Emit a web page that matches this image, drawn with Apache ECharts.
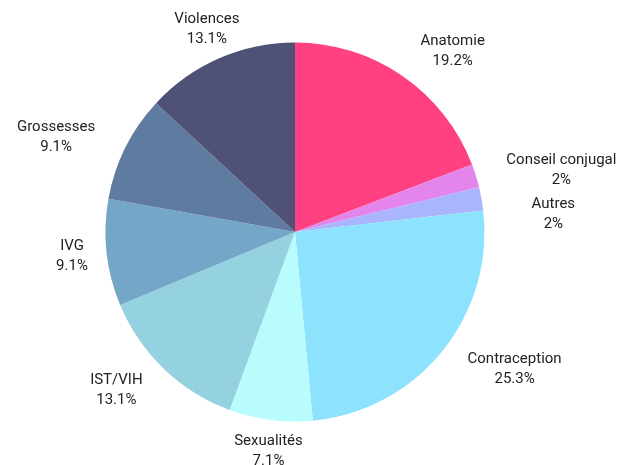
<!DOCTYPE html>
<html><head><meta charset="utf-8">
<script src="https://cdn.jsdelivr.net/npm/echarts@6/dist/echarts.min.js"></script>
<style>html,body{margin:0;padding:0;background:#fff}#c{width:617px;height:465px}</style>
</head><body><div id="c"></div>
<script>
const categories = ["Anatomie","Conseil conjugal","Autres","Contraception","Sexualités","IST/VIH","IVG","Grossesses","Violences"];
const values = [19.2,2,2,25.3,7.1,13.1,9.1,9.1,13.1];
const colors = ["#ff4081","#e385ea","#a9b6fe","#8de3fd","#b9fcfd","#94d2e0","#74a7c7","#5f7ba0","#4f5177"];

const CX = 295, CY = 232, R = 189.5;
const total = values.reduce((a,b)=>a+b,0);
const mids = [];
{ let cum = 0; values.forEach(v => { mids.push((cum + v/2)/total*Math.PI*2); cum += v; }); }

// place labels just outside the pie along each slice's mid angle
const placed = [];
function layout(p){
  const i = p.dataIndex;
  const th = mids[i];
  const ux = Math.sin(th), uy = -Math.cos(th);
  const ax = Math.abs(ux), ay = Math.abs(uy);
  const w = p.labelRect.width, h = p.labelRect.height;
  const hh = h*0.42;
  const d = R + 17;
  const s = Math.min(1, Math.max(0, (ax-0.38)/0.15));
  const extra = (ax > 0.65 && ax < 0.98) ? 9*(ax-0.65)/0.3 : 0;
  let x = ux*d + Math.sign(ux)*(w/2 + hh/2*Math.min(1, ay/0.5) + extra)*s;
  let y = uy*d + Math.sign(uy)*hh*uy*uy + 1 - 3*Math.pow(Math.max(0,uy),4);
  // avoid overlap with earlier label on the same side
  placed.forEach(q => {
    if (Math.sign(q.x) !== Math.sign(x)) return;
    const ovx = Math.abs(q.x - x) < (q.w + w)/2;
    const ovy = Math.abs(q.y - y) < (q.h + h)/2;
    if (ovx && ovy && y > q.y) {
      const shift = q.y + (q.h + h)/2 + 4 - y;
      y += shift;
      x += Math.sign(x)*shift*1.7;
    }
  });
  placed[i] = {x, y, w, h};
  return {x: CX + x, y: CY + y, align:'center', verticalAlign:'middle'};
}

const chart = echarts.init(document.getElementById('c'));
chart.setOption({
  animation:false,
  color: colors,
  series:[{
    type:'pie',
    center:[CX,CY],
    radius:[0,R],
    startAngle:90,
    clockwise:true,
    avoidLabelOverlap:false,
    data: categories.map((n,i)=>({name:n,value:values[i]})),
    label:{show:true,position:'outside',formatter:'{b}\n{c}%',fontFamily:'Roboto',fontSize:15,color:'#222',lineHeight:20,align:'center',overflow:'none'},
    labelLine:{show:false},
    labelLayout: layout,
    itemStyle:{borderWidth:0}
  }]
});
</script></body></html>
